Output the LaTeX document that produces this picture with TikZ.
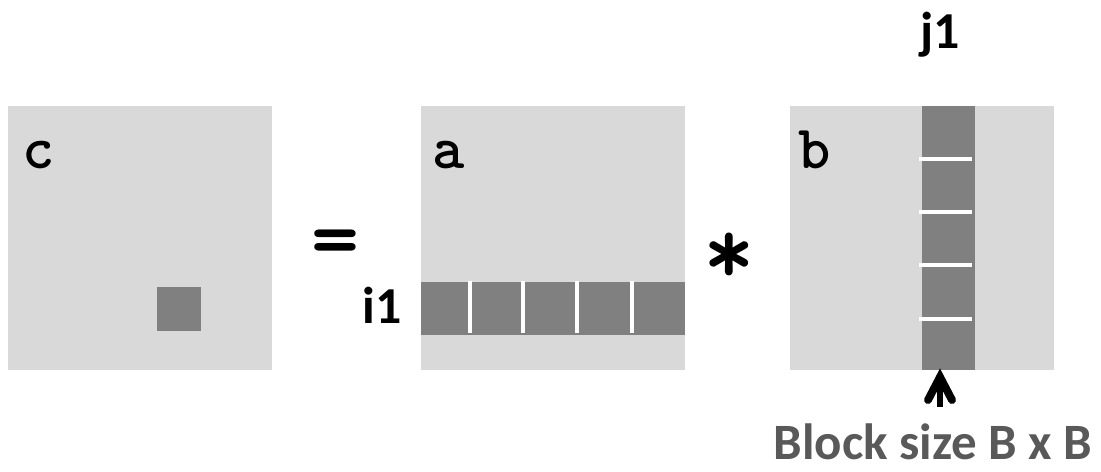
\documentclass[tikz,border=0pt]{standalone}
\usepackage{fontspec}
\setmainfont{Carlito}
\usetikzlibrary{arrows.meta}
\definecolor{matgray}{HTML}{D9D9D9}
\definecolor{blkgray}{HTML}{808080}
\definecolor{txtgray}{HTML}{595959}
\tikzset{
	matlabel/.style={anchor=base west, inner sep=0pt, font=\ttfamily\bfseries\fontsize{35}{35}\selectfont},
	idxlabel/.style={inner sep=0pt, font=\bfseries\fontsize{29.5}{29.5}\selectfont},
	opsign/.style={inner sep=0pt, font=\ttfamily\bfseries\fontsize{52}{52}\selectfont},
	sep/.style={draw=white, line width=1.8pt}
}
\begin{document}
\begin{tikzpicture}[x=0.02cm, y=0.02cm]
	\useasboundingbox (0,0) rectangle (1101,471);
	% matrix c
	\fill[matgray] (8,101) rectangle (272,365);
	\fill[blkgray] (157,140) rectangle (201,184);
	\node[matlabel] (c) at (22,303) {c};
	
	\node[opsign] (eq) at (335,222) {=};
	
	% matrix a, row i1
	\fill[matgray] (421,101) rectangle (685,365);
	\fill[blkgray] (421,136) rectangle (685,189);
	\foreach \x in {470, 523, 577, 632}
		\draw[sep] (\x,138) -- (\x,190);
	\node[matlabel] (a) at (432,303) {a};
	\node[idxlabel] (i1) at (382,166) {i1};
	
	\node[opsign, font=\ttfamily\bfseries\fontsize{56}{56}\selectfont] (times) at (729,212) {*};
	
	% matrix b, column j1
	\fill[matgray] (790,101) rectangle (1054,365);
	\fill[blkgray] (922,101) rectangle (975,365);
	\foreach \y in {152, 206, 259, 312}
		\draw[sep] (919,\y) -- (972,\y);
	\node[matlabel] (b) at (798,303) {b};
	\node[idxlabel] (j1) at (940,436) {j1};
	
	% arrow to column
	\coordinate (colbot) at (940,94);
	\coordinate (tail) at (940,64);
	\draw[line width=3.5pt] (tail) -- (colbot);
	\draw[line width=4.5pt, line cap=round, line join=miter] (928,71) -- (colbot) -- (952,71);
	\node[anchor=base, inner sep=0pt, text=txtgray, font=\bfseries\fontsize{29}{29}\selectfont] (bsize) at (933,12) {Block size B x B};
\end{tikzpicture}
\end{document}
